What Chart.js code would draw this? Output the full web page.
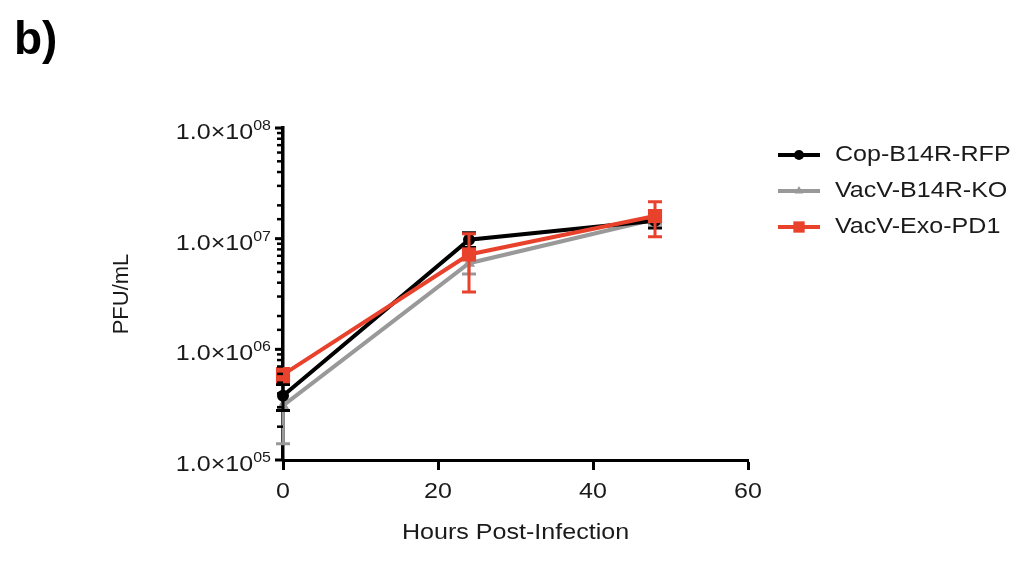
<!DOCTYPE html>
<html>
<head>
<meta charset="utf-8">
<script src="https://cdn.jsdelivr.net/npm/chart.js@4"></script>
<style>
  html, body { margin: 0; padding: 0; background: #fff; }
  #wrap { width: 1021px; height: 561px; }
</style>
</head>
<body>
<div id="wrap"><canvas id="growthChart" width="1021" height="561"></canvas></div>
<script>
// Data (PFU/mL, mean and error)
const hours = [0, 24, 48];
const seriesNames = ['Cop-B14R-RFP', 'VacV-B14R-KO', 'VacV-Exo-PD1'];
const copMean = [3.8e5, 9.8e6, 1.45e7];
const copErr = [1.0e5, 1.5e6, 2.0e6];
const koMean = [3.1e5, 6.0e6, 1.5e7];
const koErr = [1.7e5, 1.2e6, 1.5e6];
const exoMean = [5.9e5, 7.2e6, 1.6e7];
const exoErr = [0.8e5, 3.9e6, 5.6e6];
const xTicks = [0, 20, 40, 60];
const yTicks = [1e5, 1e6, 1e7, 1e8];

const colors = ['#000000', '#999999', '#e8412c'];
const pointStyles = ['circle', 'triangle', 'rect'];
const pointRadii = [6, 7, 10];
const errors = [copErr, koErr, exoErr];
const means = [copMean, koMean, exoMean];

const FONT = "'Liberation Sans', Arial, sans-serif";
const SX = 1.14; // text in the figure is slightly wide

function wideText(ctx, str, x, y, size, align, weight) {
    ctx.save();
    ctx.font = (weight || 'normal') + ' ' + size + 'px ' + FONT;
    ctx.textBaseline = 'middle';
    ctx.textAlign = 'left';
    const w = ctx.measureText(str).width * SX;
    let x0 = x;
    if (align === 'right') x0 = x - w;
    if (align === 'center') x0 = x - w / 2;
    ctx.translate(x0, y);
    ctx.scale(SX, 1);
    ctx.fillText(str, 0, 0);
    ctx.restore();
    return w;
}

function marker(ctx, style, x, y, r, color) {
    ctx.fillStyle = color;
    ctx.beginPath();
    if (style === 'circle') {
        ctx.arc(x, y, r, 0, Math.PI * 2);
    } else if (style === 'triangle') {
        ctx.moveTo(x, y - r);
        ctx.lineTo(x + r * 0.87, y + r * 0.5);
        ctx.lineTo(x - r * 0.87, y + r * 0.5);
        ctx.closePath();
    } else {
        const s = r * Math.SQRT1_2;
        ctx.rect(x - s, y - s, s * 2, s * 2);
    }
    ctx.fill();
}

const datasets = seriesNames.map((name, i) => ({
    label: name,
    data: hours.map((h, j) => ({ x: h, y: means[i][j] })),
    borderColor: colors[i],
    backgroundColor: colors[i],
    borderWidth: 4,
    pointStyle: pointStyles[i],
    pointRadius: pointRadii[i],
    pointBorderWidth: 0,
    pointHoverRadius: pointRadii[i],
    tension: 0,
    clip: false,
    order: i === 2 ? 0 : (i === 0 ? 1 : 2)
}));

// error bars, drawn under each dataset's own line
const errorBars = {
    id: 'errorBars',
    beforeDatasetDraw(chart, args) {
        const i = args.index;
        const ctx = chart.ctx;
        const xs = chart.scales.x, ys = chart.scales.y;
        ctx.save();
        ctx.strokeStyle = colors[i];
        ctx.lineWidth = 3;
        hours.forEach((h, j) => {
            const px = xs.getPixelForValue(h);
            const lo = Math.max(means[i][j] - errors[i][j], 1e5);
            const hi = means[i][j] + errors[i][j];
            const pLo = ys.getPixelForValue(lo);
            const pHi = ys.getPixelForValue(hi);
            const cap = 7;
            ctx.beginPath();
            ctx.moveTo(px, pLo); ctx.lineTo(px, pHi);
            ctx.moveTo(px - cap, pHi); ctx.lineTo(px + cap, pHi);
            if (lo > 1e5) { ctx.moveTo(px - cap, pLo); ctx.lineTo(px + cap, pLo); }
            ctx.stroke();
        });
        ctx.restore();
    }
};

// axis ticks, tick labels, titles and legend
const decorations = {
    id: 'decorations',
    afterDraw(chart) {
        const ctx = chart.ctx;
        const xs = chart.scales.x, ys = chart.scales.y;
        const area = chart.chartArea;
        ctx.save();
        ctx.strokeStyle = '#000';
        ctx.fillStyle = '#1a1a1a';

        // log minor/major ticks on y axis
        ys.ticks.forEach(t => {
            const p = ys.getPixelForValue(t.value);
            const isMajor = Math.abs(Math.log10(t.value) - Math.round(Math.log10(t.value))) < 1e-9;
            ctx.lineWidth = isMajor ? 3 : 2.5;
            ctx.beginPath();
            ctx.moveTo(area.left, p);
            ctx.lineTo(area.left - (isMajor ? 8 : 6), p);
            ctx.stroke();
        });

        // y tick labels  1.0×10^0n
        yTicks.forEach(v => {
            const p = ys.getPixelForValue(v);
            const exp = '0' + Math.round(Math.log10(v));
            const supW = wideText(ctx, exp, area.left - 12, p - 2, 14, 'right');
            wideText(ctx, '1.0\u00d710', area.left - 12 - supW, p + 5, 22, 'right');
        });

        // x tick labels
        xTicks.forEach(v => {
            wideText(ctx, String(v), xs.getPixelForValue(v), area.bottom + 32, 22, 'center');
        });

        // axis titles
        wideText(ctx, 'Hours Post-Infection', (area.left + area.right) / 2, 533, 22, 'center');
        ctx.save();
        ctx.translate(122, (area.top + area.bottom) / 2);
        ctx.rotate(-Math.PI / 2);
        ctx.font = '22px ' + FONT;
        ctx.textAlign = 'center';
        ctx.textBaseline = 'middle';
        ctx.fillText('PFU/mL', 0, 0);
        ctx.restore();

        // panel letter
        ctx.font = 'bold 46px ' + FONT;
        ctx.textAlign = 'left';
        ctx.textBaseline = 'alphabetic';
        ctx.fillStyle = '#000';
        ctx.fillText('b)', 14, 54);

        // legend
        const legY = [155, 191, 227];
        seriesNames.forEach((name, i) => {
            const y = legY[i];
            ctx.strokeStyle = colors[i];
            ctx.lineWidth = 4;
            ctx.beginPath();
            ctx.moveTo(778, y); ctx.lineTo(820, y);
            ctx.stroke();
            marker(ctx, pointStyles[i], 799, y, i === 2 ? 8 : 5, colors[i]);
            ctx.fillStyle = '#1a1a1a';
            wideText(ctx, name, 835, y, 22, 'left');
        });
        ctx.restore();
    }
};

const ctx = document.getElementById('growthChart').getContext('2d');
new Chart(ctx, {
    type: 'line',
    data: { datasets: datasets },
    options: {
        responsive: false,
        animation: false,
        events: [],
        layout: { padding: { top: 128, right: 273, left: 0, bottom: 0 } },
        scales: {
            x: {
                type: 'linear',
                min: 0,
                max: 60,
                afterFit(s) { s.height = 101; },
                afterBuildTicks(s) { s.ticks = xTicks.map(v => ({ value: v })); },
                grid: {
                    display: true,
                    drawOnChartArea: false,
                    drawTicks: true,
                    tickLength: 10,
                    tickWidth: 3,
                    tickColor: '#000'
                },
                border: { display: true, color: '#000', width: 3 },
                ticks: { display: false }
            },
            y: {
                type: 'logarithmic',
                min: 1e5,
                max: 1e8,
                afterFit(s) { s.width = 283; },
                grid: { display: false },
                border: { display: true, color: '#000', width: 3.5 },
                ticks: { display: false }
            }
        },
        plugins: {
            legend: { display: false },
            tooltip: { enabled: false }
        }
    },
    plugins: [errorBars, decorations]
});
</script>
</body>
</html>
